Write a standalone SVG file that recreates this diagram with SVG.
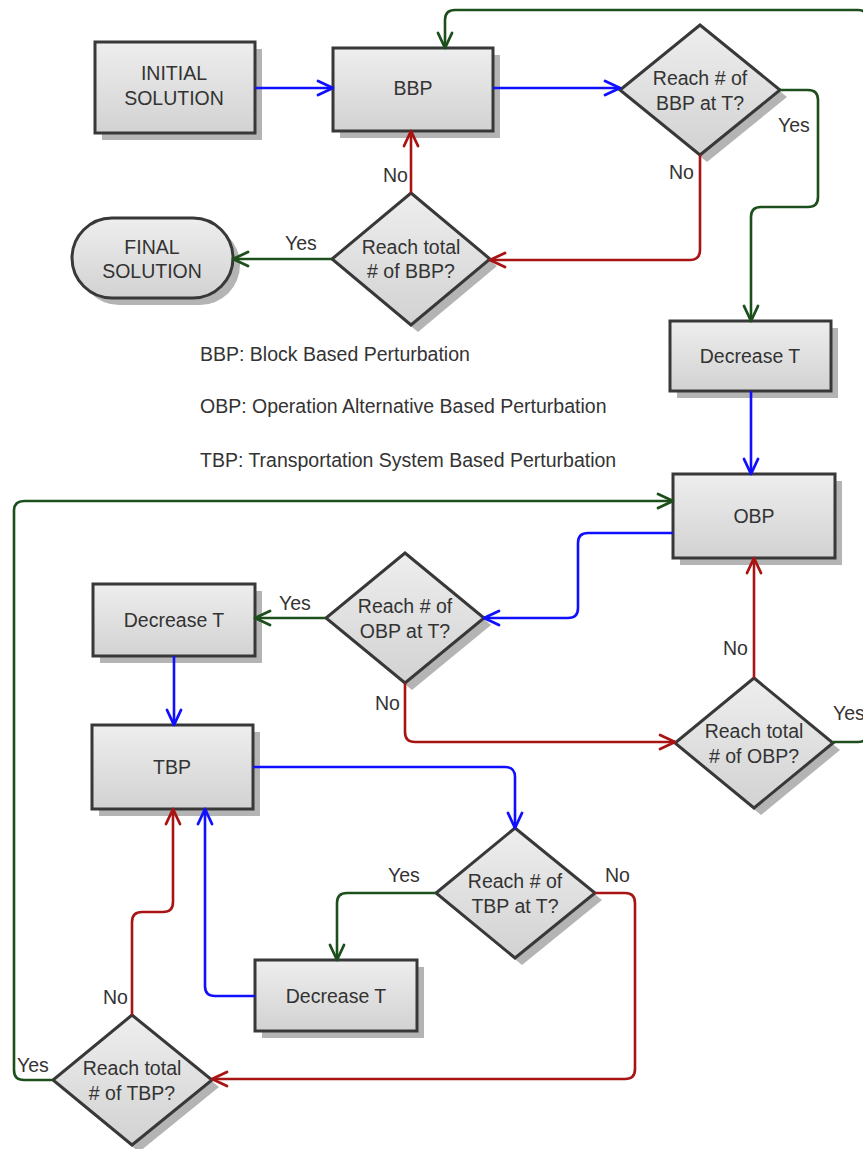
<svg xmlns="http://www.w3.org/2000/svg" width="863" height="1149" viewBox="0 0 863 1149">
  <defs>
    <linearGradient id="fillGrad" x1="0" y1="0" x2="0" y2="1">
      <stop offset="0" stop-color="#eeeeee"/>
      <stop offset="1" stop-color="#d2d2d2"/>
    </linearGradient>
    <marker id="arrowBlue" viewBox="-18 -10 20 20" refX="0" refY="0" markerWidth="20" markerHeight="20" markerUnits="userSpaceOnUse" orient="auto">
      <path d="M-15,-7 L0,0 L-15,7" fill="none" stroke="#1010ff" stroke-width="2.8" stroke-linejoin="round" stroke-linecap="round"/>
    </marker>
    <marker id="arrowGreen" viewBox="-18 -10 20 20" refX="0" refY="0" markerWidth="20" markerHeight="20" markerUnits="userSpaceOnUse" orient="auto">
      <path d="M-15,-7 L0,0 L-15,7" fill="none" stroke="#1d4f1d" stroke-width="2.8" stroke-linejoin="round" stroke-linecap="round"/>
    </marker>
    <marker id="arrowRed" viewBox="-18 -10 20 20" refX="0" refY="0" markerWidth="20" markerHeight="20" markerUnits="userSpaceOnUse" orient="auto">
      <path d="M-15,-7 L0,0 L-15,7" fill="none" stroke="#a81414" stroke-width="2.8" stroke-linejoin="round" stroke-linecap="round"/>
    </marker>
  </defs>
  <style>
    .shape { fill: url(#fillGrad); stroke: #383838; stroke-width: 3; }
    .shadow { fill: #b4b4b4; }
    text { font-family: "Liberation Sans", Arial, sans-serif; font-size: 19.5px; fill: #333333; }
    .c { text-anchor: middle; }
    .edge { fill: none; stroke-width: 2.6; stroke-linejoin: round; }
    .blue { stroke: #1010ff; marker-end: url(#arrowBlue); }
    .green { stroke: #1d4f1d; marker-end: url(#arrowGreen); }
    .red { stroke: #a81414; marker-end: url(#arrowRed); }
  </style>

  <rect width="863" height="1149" fill="#ffffff"/>

  <g id="initial-solution">
    <rect class="shadow" x="102" y="49" width="160" height="91"/>
    <rect class="shape" x="95" y="42" width="160" height="91"/>
    <text class="c" x="174" y="80">INITIAL</text>
    <text class="c" x="174" y="105">SOLUTION</text>
  </g>

  <g id="bbp">
    <rect class="shadow" x="340" y="55" width="160" height="83"/>
    <rect class="shape" x="333" y="48" width="160" height="83"/>
    <text class="c" x="413" y="95">BBP</text>
  </g>

  <g id="bbp-at-t">
    <polygon class="shadow" points="707,32 787,97 707,162 627,97"/>
    <polygon class="shape" points="700,25 780,90 700,155 620,90"/>
    <text class="c" x="700" y="85">Reach # of</text>
    <text class="c" x="700" y="110">BBP at T?</text>
  </g>

  <g id="final-solution">
    <rect class="shadow" x="79" y="225" width="161" height="80" rx="40"/>
    <rect class="shape" x="72" y="218" width="161" height="80" rx="40"/>
    <text class="c" x="152" y="254">FINAL</text>
    <text class="c" x="152" y="278">SOLUTION</text>
  </g>

  <g id="bbp-total">
    <polygon class="shadow" points="418,200 497,266 418,332 339,266"/>
    <polygon class="shape" points="411,193 490,259 411,325 332,259"/>
    <text class="c" x="411" y="254">Reach total</text>
    <text class="c" x="411" y="278"># of BBP?</text>
  </g>

  <g id="decrease-t-1">
    <rect class="shadow" x="677" y="328" width="161" height="70"/>
    <rect class="shape" x="670" y="321" width="161" height="70"/>
    <text class="c" x="750" y="363">Decrease T</text>
  </g>

  <g id="obp">
    <rect class="shadow" x="680" y="481" width="162" height="84"/>
    <rect class="shape" x="673" y="474" width="162" height="84"/>
    <text class="c" x="754" y="523">OBP</text>
  </g>

  <g id="obp-at-t">
    <polygon class="shadow" points="412,560 491,625 412,690 333,625"/>
    <polygon class="shape" points="405,553 484,618 405,683 326,618"/>
    <text class="c" x="405" y="613">Reach # of</text>
    <text class="c" x="405" y="638">OBP at T?</text>
  </g>

  <g id="decrease-t-2">
    <rect class="shadow" x="100" y="591" width="162" height="72"/>
    <rect class="shape" x="93" y="584" width="162" height="72"/>
    <text class="c" x="174" y="627">Decrease T</text>
  </g>

  <g id="obp-total">
    <polygon class="shadow" points="761,685 840,750 761,815 682,750"/>
    <polygon class="shape" points="754,678 833,743 754,808 675,743"/>
    <text class="c" x="754" y="738">Reach total</text>
    <text class="c" x="754" y="763"># of OBP?</text>
  </g>

  <g id="tbp">
    <rect class="shadow" x="99" y="732" width="161" height="84"/>
    <rect class="shape" x="92" y="725" width="161" height="84"/>
    <text class="c" x="172" y="774">TBP</text>
  </g>

  <g id="tbp-at-t">
    <polygon class="shadow" points="522,835 602,900 522,965 443,900"/>
    <polygon class="shape" points="515,828 595,893 515,958 436,893"/>
    <text class="c" x="515" y="888">Reach # of</text>
    <text class="c" x="515" y="913">TBP at T?</text>
  </g>

  <g id="decrease-t-3">
    <rect class="shadow" x="262" y="967" width="162" height="71"/>
    <rect class="shape" x="255" y="960" width="162" height="71"/>
    <text class="c" x="336" y="1003">Decrease T</text>
  </g>

  <g id="tbp-total">
    <polygon class="shadow" points="139,1022 219,1087 139,1152 60,1087"/>
    <polygon class="shape" points="132,1015 212,1080 132,1145 53,1080"/>
    <text class="c" x="132" y="1075">Reach total</text>
    <text class="c" x="132" y="1100"># of TBP?</text>
  </g>

  <!-- connectors, drawn over the node shadows -->
  <g id="connectors">
    <path class="edge blue" d="M255,88 H333"/>
    <path class="edge blue" d="M493,88 H620"/>
    <path class="edge blue" d="M751,391 V474"/>
    <path class="edge blue" d="M673,533 H588 Q578,533 578,543 V608 Q578,618 568,618 H484"/>
    <path class="edge blue" d="M174,656 V725"/>
    <path class="edge blue" d="M253,767 H505 Q515,767 515,777 V828"/>
    <path class="edge blue" d="M255,996 H215 Q205,996 205,986 V809"/>

    <path class="edge green" d="M833,742 H858 Q867,742 867,733 V19 Q867,10 858,10 H455 Q445,10 445,20 V48"/>
    <path class="edge green" d="M780,90 H808 Q818,90 818,100 V197 Q818,207 808,207 H761 Q751,207 751,217 V321"/>
    <path class="edge green" d="M332,259 H233"/>
    <path class="edge green" d="M326,618 H255"/>
    <path class="edge green" d="M436,893 H347 Q337,893 337,903 V960"/>
    <path class="edge green" d="M53,1080 H24 Q14,1080 14,1070 V511 Q14,501 24,501 H673"/>

    <path class="edge red" d="M700,155 V250 Q700,260 690,260 H490"/>
    <path class="edge red" d="M411,193 V131"/>
    <path class="edge red" d="M405,683 V732 Q405,742 415,742 H675"/>
    <path class="edge red" d="M754,678 V558"/>
    <path class="edge red" d="M595,893 H625 Q635,893 635,903 V1069 Q635,1079 625,1079 H212"/>
    <path class="edge red" d="M132,1015 V922 Q132,912 142,912 H163 Q173,912 173,902 V809"/>
  </g>

  <!-- edge labels -->
  <g id="labels">
    <text x="778" y="132">Yes</text>
    <text x="669" y="179">No</text>
    <text x="383" y="182">No</text>
    <text x="285" y="250">Yes</text>
    <text x="279" y="610">Yes</text>
    <text x="375" y="710">No</text>
    <text x="723" y="655">No</text>
    <text x="833" y="720">Yes</text>
    <text x="388" y="882">Yes</text>
    <text x="605" y="882">No</text>
    <text x="103" y="1004">No</text>
    <text x="17" y="1072">Yes</text>
  </g>

  <!-- legend -->
  <g id="legend">
    <text x="200" y="361">BBP: Block Based Perturbation</text>
    <text x="200" y="413">OBP: Operation Alternative Based Perturbation</text>
    <text x="200" y="467">TBP: Transportation System Based Perturbation</text>
  </g>
</svg>
